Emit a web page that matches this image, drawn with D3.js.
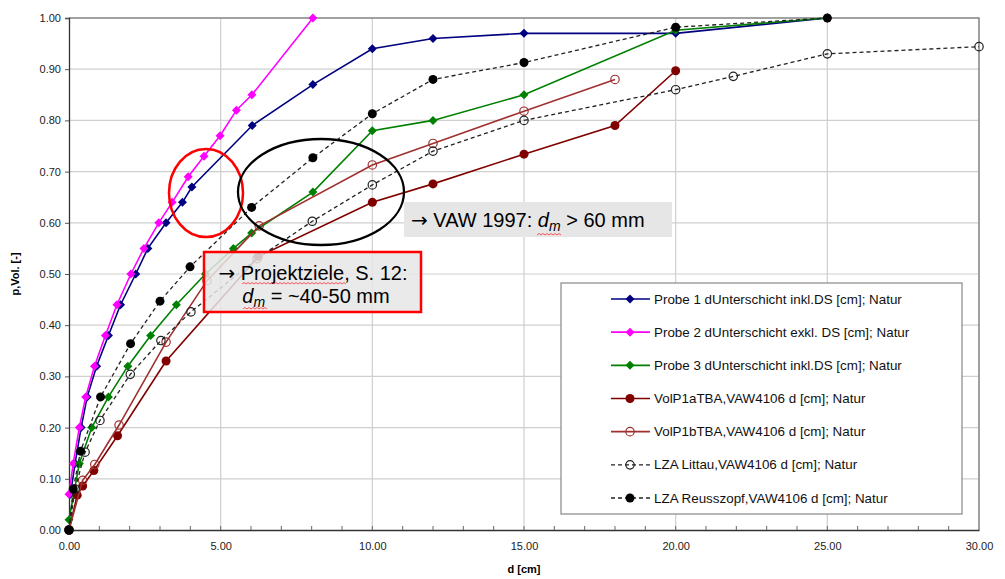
<!DOCTYPE html>
<html>
<head>
<meta charset="utf-8">
<script src="https://cdn.jsdelivr.net/npm/d3@7"></script>
<style>
  body { margin: 0; background: #fff; }
  svg text { font-family: "Liberation Sans", Arial, sans-serif; }
</style>
</head>
<body>
<svg id="chart" width="1005" height="579"></svg>
<script>
// Data (d [cm], p Vol. [-])
const probe1 = [[0.05,0.07],[0.2,0.13],[0.4,0.2],[0.6,0.26],[0.91,0.32],[1.3,0.38],[1.7,0.44],[2.2,0.5],[2.6,0.55],[3.2,0.6],[3.74,0.64],[4.05,0.67],[6.04,0.79],[8.04,0.87],[10,0.94],[12,0.96],[15,0.97],[20,0.97],[25,1.0]];
const probe2 = [[0,0.07],[0.14,0.13],[0.34,0.2],[0.55,0.26],[0.84,0.32],[1.2,0.38],[1.58,0.44],[2.04,0.5],[2.47,0.55],[2.96,0.6],[3.4,0.64],[3.93,0.69],[4.45,0.73],[4.98,0.77],[5.52,0.82],[6.03,0.85],[8.04,1.0]];
const probe3 = [[0,0.02],[0.34,0.13],[0.75,0.2],[1.3,0.26],[1.94,0.32],[2.69,0.38],[3.54,0.44],[4.5,0.5],[5.42,0.55],[6.02,0.58],[8.04,0.66],[10,0.78],[12,0.8],[15,0.85],[20,0.976],[25,1.0]];
const volP1a = [[0,0],[0.27,0.068],[0.45,0.086],[0.82,0.116],[1.6,0.184],[3.2,0.33],[6.24,0.534],[10,0.64],[12,0.676],[15,0.734],[18,0.79],[20,0.897]];
const volP1b = [[0,0],[0.45,0.097],[0.85,0.128],[1.65,0.205],[3.2,0.367],[4.55,0.487],[6.27,0.594],[10,0.713],[12,0.755],[15,0.818],[18,0.88]];
const littau = [[0,0],[0.2,0.08],[0.53,0.152],[1.02,0.214],[2.02,0.304],[3.03,0.37],[4.02,0.426],[6.2,0.53],[8.02,0.603],[10,0.674],[12,0.74],[15,0.8],[20,0.86],[21.9,0.886],[25,0.93],[30,0.944]];
const reusszopf = [[0,0],[0.14,0.08],[0.38,0.154],[1.04,0.26],[2.03,0.364],[3.0,0.447],[3.99,0.514],[6.02,0.63],[8.04,0.727],[10,0.813],[12,0.88],[15,0.913],[20,0.982],[25,1.0]];

const seriesNames = [
  "Probe 1 dUnterschicht inkl.DS [cm]; Natur",
  "Probe 2 dUnterschicht exkl. DS [cm]; Natur",
  "Probe 3 dUnterschicht inkl.DS [cm]; Natur",
  "VolP1aTBA,VAW4106 d [cm]; Natur",
  "VolP1bTBA,VAW4106 d [cm]; Natur",
  "LZA Littau,VAW4106 d [cm]; Natur",
  "LZA Reusszopf,VAW4106 d [cm]; Natur"
];
const xTicks = [0, 5, 10, 15, 20, 25, 30];
const yTicks = [0, 0.1, 0.2, 0.3, 0.4, 0.5, 0.6, 0.7, 0.8, 0.9, 1.0];

// Styles per series
const styles = [
  {color: "#000080", marker: "diamond", dash: null},
  {color: "#ff00ff", marker: "diamond", dash: null},
  {color: "#008000", marker: "diamond", dash: null},
  {color: "#800000", marker: "dot", dash: null},
  {color: "#a03030", marker: "ring", dash: null},
  {color: "#222", marker: "ring", dash: "4,3"},
  {color: "#222", marker: "dot", dash: "4,3"}
];
const allSeries = [probe1, probe2, probe3, volP1a, volP1b, littau, reusszopf];

const svg = d3.select("#chart");
const plotLeft = 69, plotRight = 979, plotTop = 18, plotBottom = 530;

const x = d3.scaleLinear().domain([0, 30]).range([plotLeft, plotRight]);
const y = d3.scaleLinear().domain([0, 1]).range([plotBottom, plotTop]);

// Grid
const grid = svg.append("g");
grid.selectAll("line.h")
  .data(yTicks.slice(1))
  .join("line")
    .attr("x1", plotLeft).attr("x2", plotRight)
    .attr("y1", d => y(d)).attr("y2", d => y(d))
    .attr("stroke", "#cfcfcf").attr("stroke-width", 1.2);
grid.selectAll("line.v")
  .data(xTicks.slice(1))
  .join("line")
    .attr("x1", d => x(d)).attr("x2", d => x(d))
    .attr("y1", plotTop).attr("y2", plotBottom)
    .attr("stroke", "#cfcfcf").attr("stroke-width", 1.2);

// Frame top / right
svg.append("path")
  .attr("d", `M${plotLeft},${plotTop}H${plotRight}V${plotBottom}`)
  .attr("fill", "none")
  .attr("stroke", "#8a8a8a")
  .attr("stroke-width", 1.5);

// Axes
const xAxis = d3.axisBottom(x).tickValues(xTicks).tickFormat(d3.format(".2f")).tickSize(0).tickPadding(12);
const gx = svg.append("g").attr("transform", `translate(0,${plotBottom})`).call(xAxis);
gx.select(".domain").attr("stroke", "#333").attr("stroke-width", 1.3);
gx.selectAll("text").attr("font-size", 11).attr("fill", "#222")
  .style("font-family", "'Liberation Sans Narrow', 'Liberation Sans', Arial, sans-serif");

// minor ticks on x (inside)
svg.append("g").selectAll("line")
  .data(d3.range(1, 30))
  .join("line")
    .attr("x1", d => x(d)).attr("x2", d => x(d))
    .attr("y1", plotBottom).attr("y2", plotBottom - 4)
    .attr("stroke", "#666");

const yAxis = d3.axisLeft(y).tickValues(yTicks).tickFormat(d3.format(".2f")).tickSize(4).tickPadding(4);
const gy = svg.append("g").attr("transform", `translate(${plotLeft},0)`).call(yAxis);
gy.select(".domain").attr("stroke", "#333").attr("stroke-width", 1.3);
gy.selectAll(".tick line").attr("stroke", "#555");
gy.selectAll("text").attr("font-size", 11).attr("fill", "#222");

// Axis titles
svg.append("text")
  .attr("x", (plotLeft + plotRight) / 2).attr("y", 573)
  .attr("text-anchor", "middle")
  .attr("font-size", 11).attr("font-weight", "bold")
  .text("d [cm]");
svg.append("text")
  .attr("transform", `translate(19,${(plotTop + plotBottom) / 2}) rotate(-90)`)
  .attr("text-anchor", "middle")
  .attr("font-size", 11).attr("font-weight", "bold")
  .text("p,Vol. [-]");

// Markers
function drawMarker(g, st, cx, cy) {
  if (st.marker === "diamond") {
    const r = 4.5;
    g.append("path")
      .attr("d", `M${cx},${cy - r}L${cx + r},${cy}L${cx},${cy + r}L${cx - r},${cy}Z`)
      .attr("fill", st.color);
  } else if (st.marker === "dot") {
    g.append("circle").attr("cx", cx).attr("cy", cy).attr("r", 4.5)
      .attr("fill", st.color === "#222" ? "#000" : st.color);
  } else {
    g.append("circle").attr("cx", cx).attr("cy", cy).attr("r", 4.2)
      .attr("fill", "none").attr("stroke", st.color).attr("stroke-width", 1.2);
  }
}

// Lines
const line = d3.line().x(d => x(d[0])).y(d => y(d[1]));
const plot = svg.append("g");
allSeries.forEach((data, i) => {
  const st = styles[i];
  plot.append("path")
    .datum(data)
    .attr("d", line)
    .attr("fill", "none")
    .attr("stroke", st.color)
    .attr("stroke-width", st.dash ? 1.3 : 1.6)
    .attr("stroke-dasharray", st.dash);
  const mg = plot.append("g");
  data.forEach(d => drawMarker(mg, st, x(d[0]), y(d[1])));
});

// Annotation ellipses
svg.append("ellipse")
  .attr("cx", 206).attr("cy", 193).attr("rx", 37).attr("ry", 44)
  .attr("fill", "none").attr("stroke", "#ff0000").attr("stroke-width", 2.5);
svg.append("ellipse")
  .attr("cx", 321).attr("cy", 192).attr("rx", 83).attr("ry", 53)
  .attr("fill", "none").attr("stroke", "#000").attr("stroke-width", 2.3);

function squiggle(x0, x1, yy) {
  let d = `M${x0},${yy}`;
  let up = true;
  for (let xx = x0 + 2; xx <= x1; xx += 2) {
    d += `L${xx},${yy + (up ? -1.5 : 0)}`;
    up = !up;
  }
  return d;
}

const arrowFont = "'DejaVu Sans', sans-serif";

// VAW box
svg.append("rect")
  .attr("x", 404).attr("y", 202).attr("width", 268).attr("height", 35)
  .attr("fill", "#e6e6e6");
const vaw = svg.append("text").attr("x", 411).attr("y", 227).attr("font-size", 20).attr("fill", "#000");
vaw.append("tspan").style("font-family", arrowFont).text("\u2192");
vaw.append("tspan").text(" VAW 1997: ");
vaw.append("tspan").attr("font-style", "italic").text("d");
vaw.append("tspan").attr("font-style", "italic").attr("font-size", 14).attr("dy", 4).text("m");
vaw.append("tspan").attr("dy", -4).text(" > 60 mm");

// Projektziele box
svg.append("rect")
  .attr("x", 204).attr("y", 252).attr("width", 217).attr("height", 60)
  .attr("fill", "#e6e6e6").attr("fill-opacity", 0.85)
  .attr("stroke", "#ff0000").attr("stroke-width", 2.5);
const pz = svg.append("text")
  .attr("x", 313).attr("y", 280).attr("text-anchor", "middle")
  .attr("font-size", 20);
pz.append("tspan").style("font-family", arrowFont).text("\u2192");
pz.append("tspan").text(" Projektziele, S. 12:");
const dm = svg.append("text").attr("x", 316).attr("y", 303).attr("text-anchor", "middle").attr("font-size", 20);
dm.append("tspan").attr("font-style", "italic").text("d");
dm.append("tspan").attr("font-style", "italic").attr("font-size", 14).attr("dy", 4).text("m");
dm.append("tspan").attr("dy", -4).text(" = ~40-50 mm");

// spell-check squiggles
[[242, 346, 284], [243, 268, 309], [537, 561, 235]].forEach(s => {
  svg.append("path").attr("d", squiggle(s[0], s[1], s[2]))
    .attr("fill", "none").attr("stroke", "#ff3030").attr("stroke-width", 0.8);
});

// Legend
const legend = svg.append("g");
legend.append("rect")
  .attr("x", 561).attr("y", 283).attr("width", 401).attr("height", 231)
  .attr("fill", "#fff").attr("stroke", "#888").attr("stroke-width", 1.2);

const rowY = d3.scalePoint().domain(d3.range(7)).range([299, 498]);
seriesNames.forEach((name, i) => {
  const st = styles[i];
  const yy = rowY(i);
  legend.append("line")
    .attr("x1", 611).attr("x2", 650).attr("y1", yy).attr("y2", yy)
    .attr("stroke", st.color).attr("stroke-width", st.dash ? 1.3 : 1.6)
    .attr("stroke-dasharray", st.dash);
  drawMarker(legend, st, 630, yy);
  legend.append("text")
    .attr("x", 654).attr("y", yy + 4.5)
    .attr("font-size", 13.4).attr("fill", "#111")
    .text(name);
});
</script>
</body>
</html>
